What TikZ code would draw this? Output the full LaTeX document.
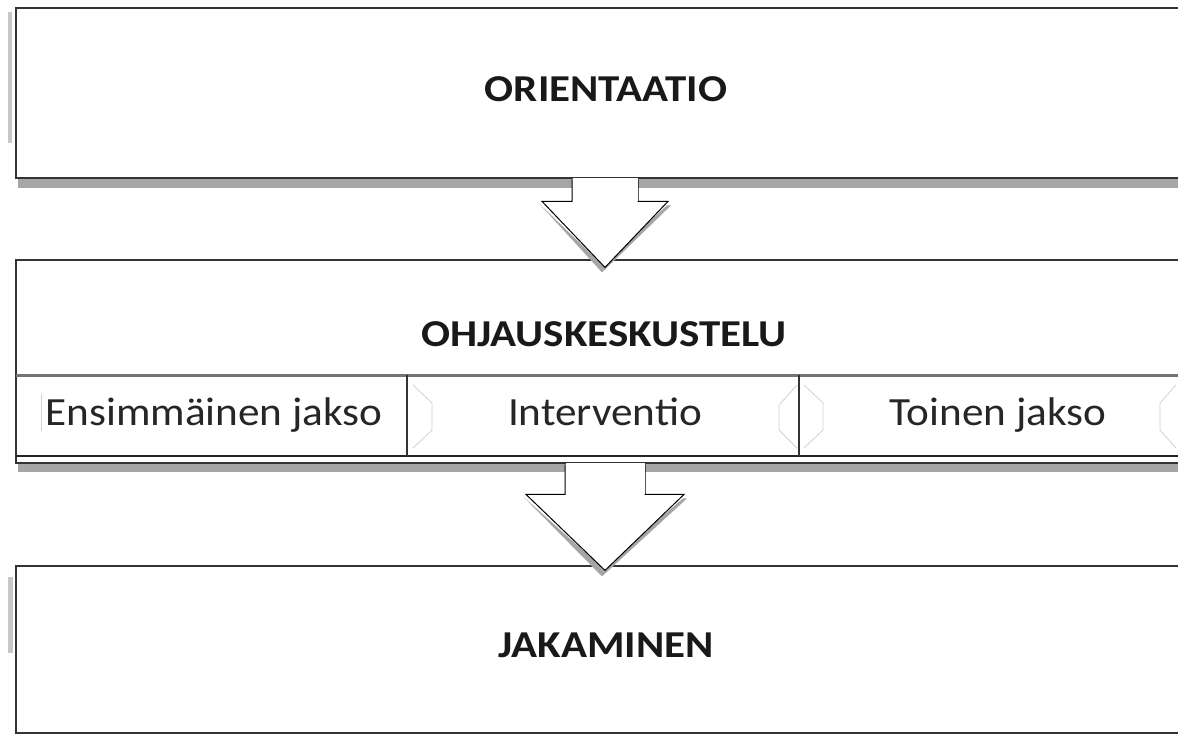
\documentclass[tikz,border=0pt]{standalone}
\usepackage{fontspec}
\setmainfont{Carlito}
\usetikzlibrary{calc}
\newcommand{\widetitle}[1]{\scalebox{1.13}[1]{#1}}
\newcommand{\widephase}[1]{\scalebox{1.08}[1]{#1}}
\begin{document}
\begin{tikzpicture}[x=1pt,y=-1pt,
  panel/.style={draw=black!80, line width=2.4pt, fill=white, inner sep=0pt,
    minimum width=1178pt, anchor=north},
  cell/.style={inner sep=0pt, anchor=north west, minimum height=81pt},
  title/.style={font=\fontsize{38}{38}\selectfont\bfseries, text=black!90,
    inner sep=0pt, anchor=base},
  phase/.style={font=\fontsize{40}{40}\selectfont, text=black!85,
    inner sep=0pt, anchor=base},
  dropband/.style={fill=black!35},
  sidebar/.style={fill=black!22},
  arrowbody/.style={draw=black, line width=1pt, fill=white, line join=miter},
  arrowshade/.style={fill=black!35},
  faint/.style={draw=black!18, line width=0.8pt}]
\useasboundingbox (0,0) rectangle (1178,737);
\clip (0,0) rectangle (1178,737);

% shadows and side marks behind the panels
\fill[dropband] (18,179) rectangle (1200,188);
\fill[dropband] (18,464) rectangle (1200,472);
\fill[sidebar] (8,12) rectangle (12,143);
\fill[sidebar] (8,577) rectangle (13,653);

% the three panels
\node[panel, minimum height=170pt] (orient) at (605,7) {};
\node[panel, minimum height=203pt] (ohjaus) at (605,259) {};
\node[panel, minimum height=167pt] (jaka) at (605,565) {};

% phase row inside the middle panel
\node[cell, minimum width=391pt] (first) at (16,375) {};
\node[cell, minimum width=392pt] (interv) at (407,375) {};
\node[cell, minimum width=395pt] (second) at (799,375) {};
\draw[black!55, line width=3pt] (first.north west) -- (second.north east);
\draw[black!85, line width=2pt] (first.south west) -- (second.south east);
\draw[black!80, line width=2pt] (interv.north west) -- (interv.south west);
\draw[black!80, line width=2pt] (second.north west) -- (second.south west);

% faint chevron edges of the phase cells
\draw[faint] (41,394) -- (41,431);
\draw[faint] (413,385) -- (432,403) -- (432,430) -- (413,448);
\draw[faint] (797,385) -- (779,405) -- (779,430) -- (797,448);
\draw[faint] (804,385) -- (823,403) -- (823,430) -- (804,448);
\draw[faint] (1176,385) -- (1160,403) -- (1160,430) -- (1176,448);

% texts
\node[title] (t1) at (606,101) {\widetitle{ORIENTAATIO}};
\node[title] (t2) at (604,346) {\widetitle{OHJAUSKESKUSTELU}};
\node[title] (t3) at (606,657) {\widetitle{JAKAMINEN}};
\node[phase] (p1) at (214,425) {\widephase{Ensimmäinen jakso}};
\node[phase] (p2) at (605,425) {\widephase{Interventio}};
\node[phase] (p3) at (998,425) {\widephase{Toinen jakso}};

% block arrow from the first panel to the second
\coordinate (a1) at (orient.south);
\fill[arrowshade] ($(a1)+(-66,24)$) -- ($(a1)+(-3,93)$) -- ($(a1)+(66,26)$)
  -- ($(a1)+(62,26)$) -- ($(a1)+(-3,85)$) -- cycle;
\draw[arrowbody] ($(a1)+(-33,0)$) -- ($(a1)+(-33,22)$) -- ($(a1)+(-63,22)$)
  -- ($(a1)+(0,88)$) -- ($(a1)+(63,22)$) -- ($(a1)+(33,22)$)
  -- ($(a1)+(33,0)$);
\fill[white] ($(a1)+(-32.5,-1.2)$) rectangle ($(a1)+(32.5,21.5)$);

% block arrow from the second panel to the third
\coordinate (a2) at (ohjaus.south);
\fill[arrowshade] ($(a2)+(-82,32)$) -- ($(a2)+(-3,112)$) -- ($(a2)+(82,34)$)
  -- ($(a2)+(78,34)$) -- ($(a2)+(-3,103)$) -- cycle;
\draw[arrowbody] ($(a2)+(-40,0)$) -- ($(a2)+(-40,30)$) -- ($(a2)+(-79,30)$)
  -- ($(a2)+(0,106)$) -- ($(a2)+(79,30)$) -- ($(a2)+(40,30)$)
  -- ($(a2)+(40,0)$);
\fill[white] ($(a2)+(-39.5,-1.2)$) rectangle ($(a2)+(39.5,29.5)$);
\end{tikzpicture}
\end{document}
